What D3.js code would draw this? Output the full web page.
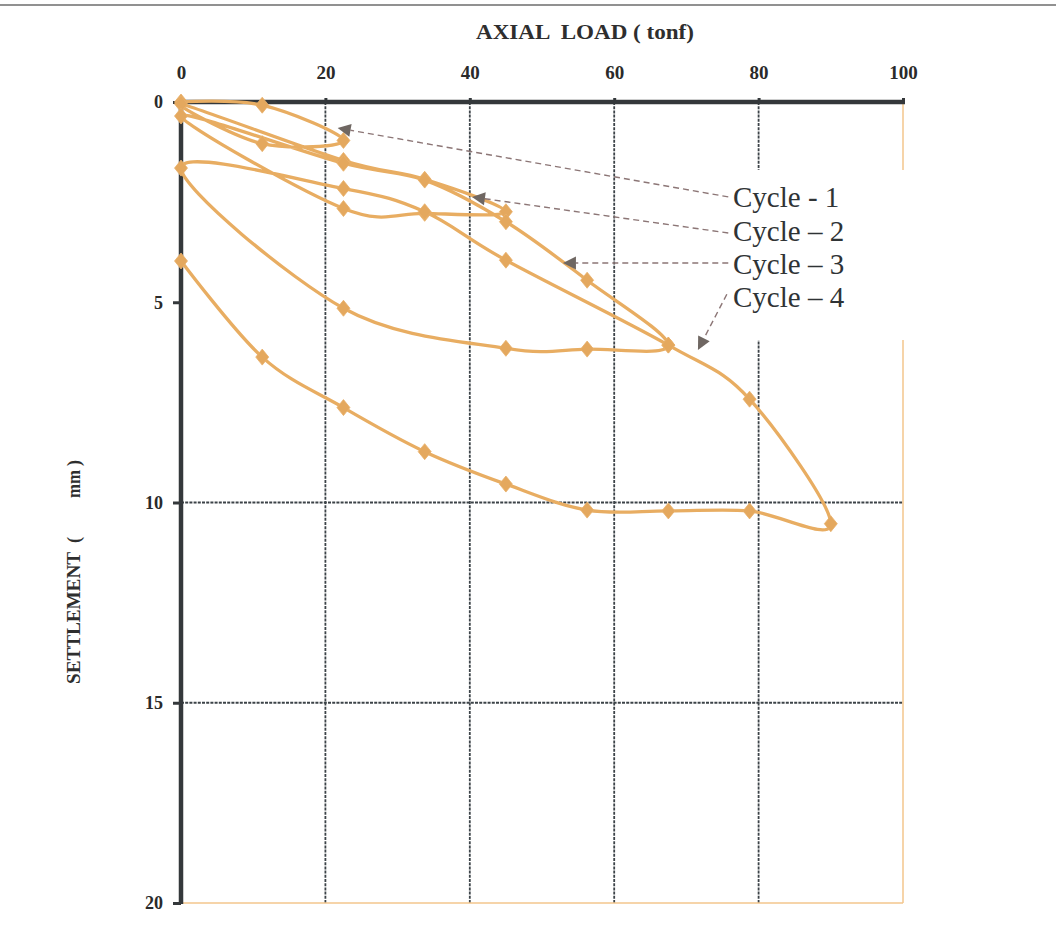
<!DOCTYPE html>
<html>
<head>
<meta charset="utf-8">
<script src="https://cdn.jsdelivr.net/npm/d3@7"></script>
<style>
  html, body { margin: 0; padding: 0; background: #fff; }
  svg { display: block; }
</style>
</head>
<body>
<div id="chart"></div>
<script>
// ---------- data ----------
// Load-settlement record of the cyclic pile test, in plotting order (one continuous smoothed series)
const loads = [0, 11.25, 22.5, 11.25, 0,
  22.5, 33.75, 45, 33.75, 22.5, 0,
  22.5, 33.75, 45, 56.25, 67.5, 56.25, 45, 22.5, 0,
  22.5, 33.75, 45, 67.5, 78.75, 90, 78.75, 67.5, 56.25, 45, 33.75, 22.5, 11.25, 0];
const settlements = [0, 0.08, 0.96, 1.04, 0.05,
  1.46, 1.93, 2.74, 2.78, 2.66, 0.35,
  1.53, 1.95, 2.99, 4.45, 6.07, 6.17, 6.15, 5.15, 1.65,
  2.16, 2.74, 3.95, 6.07, 7.42, 10.53, 10.21, 10.21, 10.19, 9.54, 8.73, 7.63, 6.37, 3.97];

const xTicks = [0, 20, 40, 60, 80, 100];
const yTicks = [0, 5, 10, 15, 20];
const xGrid = [20, 40, 60, 80];
const yGrid = [10, 15];

const cycleLabels = ["Cycle - 1", "Cycle \u2013 2", "Cycle \u2013 3", "Cycle \u2013 4"];
// arrow targets (load, settlement) and arrow tails near the labels
const arrowTipLoad = [21.7, 40.3, 52.9, 71.6];
const arrowTipSett = [0.65, 2.37, 4.02, 6.19];
const arrowTailLoad = [75.8, 75.8, 75.8, 75.6];
const arrowTailSett = [2.37, 3.27, 4.02, 4.8];

const xTitle = "AXIAL  LOAD ( tonf)";
const yTitleParts = ["SETTLEMENT", "(", "mm", ")"];

// ---------- drawing ----------
const W = 1056, H = 947;
const svg = d3.select("#chart").append("svg").attr("width", W).attr("height", H);

const x = d3.scaleLinear().domain([0, 100]).range([181, 903]);
const y = d3.scaleLinear().domain([0, 20]).range([102, 903]);

const axisColor = "#34383b";
const lineColor = "#E8AD62";
const serif = "'Liberation Serif', 'Times New Roman', serif";

// page separator line
svg.append("line").attr("x1", 0).attr("x2", W).attr("y1", 5).attr("y2", 5)
  .attr("stroke", "#6d6d6d").attr("stroke-width", 1.6);

// grid lines
svg.append("g").selectAll("line").data(xGrid).join("line")
  .attr("x1", d => x(d)).attr("x2", d => x(d))
  .attr("y1", y(0)).attr("y2", y(20))
  .attr("stroke", "#3c4348").attr("stroke-width", 1.8)
  .attr("stroke-dasharray", "3,1.2");
svg.append("g").selectAll("line").data(yGrid).join("line")
  .attr("x1", x(0)).attr("x2", x(100))
  .attr("y1", d => y(d)).attr("y2", d => y(d))
  .attr("stroke", "#3c4348").attr("stroke-width", 1.8)
  .attr("stroke-dasharray", "3,1.2");

// plot-area border (right & bottom)
svg.append("line").attr("x1", x(100)).attr("x2", x(100)).attr("y1", y(0)).attr("y2", y(20))
  .attr("stroke", "#F3C68C").attr("stroke-width", 1.5);
svg.append("line").attr("x1", x(0)).attr("x2", x(100)).attr("y1", y(20)).attr("y2", y(20))
  .attr("stroke", "#F3C68C").attr("stroke-width", 1.5);

// legend background box (hides grid / border behind labels)
svg.append("rect").attr("x", 716).attr("y", 170).attr("width", 200).attr("height", 170)
  .attr("fill", "#fff");

// axes
const gx = svg.append("g").attr("transform", `translate(0,${y(0)})`)
  .call(d3.axisTop(x).tickValues(xTicks).tickSize(4).tickPadding(19).tickFormat(d3.format("d")));
gx.select(".domain").remove();
gx.selectAll(".tick line").attr("stroke", axisColor).attr("stroke-width", 3);
gx.selectAll(".tick text").attr("font-family", serif).attr("font-weight", "bold")
  .attr("font-size", 19).attr("fill", "#2a2a2a");

const gy = svg.append("g").attr("transform", `translate(${x(0)},0)`)
  .call(d3.axisLeft(y).tickValues(yTicks).tickSize(8).tickPadding(10).tickFormat(d3.format("d")));
gy.select(".domain").remove();
gy.selectAll(".tick line").attr("stroke", axisColor).attr("stroke-width", 3);
gy.selectAll(".tick text").attr("font-family", serif).attr("font-weight", "bold")
  .attr("font-size", 18).attr("fill", "#2a2a2a");

// thick axis lines
svg.append("line").attr("x1", x(0) - 1).attr("x2", x(100) + 2).attr("y1", y(0)).attr("y2", y(0))
  .attr("stroke", axisColor).attr("stroke-width", 4.5);
svg.append("line").attr("x1", x(0)).attr("x2", x(0)).attr("y1", y(0) - 2).attr("y2", y(20) + 1)
  .attr("stroke", axisColor).attr("stroke-width", 4.5);

// axis titles
svg.append("text").attr("x", 585).attr("y", 39).attr("text-anchor", "middle")
  .attr("font-family", serif).attr("font-size", 20).attr("font-weight", "bold").attr("fill", "#2e2e2e")
  .attr("textLength", 218).attr("lengthAdjust", "spacingAndGlyphs")
  .style("white-space", "pre").text(xTitle);

const yt = svg.append("g").attr("transform", "translate(80,0) rotate(-90)")
  .attr("font-family", serif).attr("font-weight", "bold").attr("font-size", 18).attr("fill", "#2e2e2e");
const yPartStart = [684, 543, 498, 466];
const yPartLen = [132, 6, 28, 6];
yTitleParts.forEach((t, i) => {
  yt.append("text").attr("x", -yPartStart[i]).attr("y", 0)
    .attr("textLength", yPartLen[i]).attr("lengthAdjust", "spacingAndGlyphs").text(t);
});

// curve
const pts = loads.map((l, i) => [l, settlements[i]]);
const line = d3.line().x(d => x(d[0])).y(d => y(d[1])).curve(d3.curveCardinal.tension(0));
svg.append("path").datum(pts).attr("d", line)
  .attr("fill", "none").attr("stroke", lineColor).attr("stroke-width", 3.3)
  .attr("stroke-linejoin", "round").attr("stroke-linecap", "round");

svg.append("g").selectAll("path").data(pts).join("path")
  .attr("transform", d => `translate(${x(d[0])},${y(d[1])})`)
  .attr("d", "M0,-8L6.5,0L0,8L-6.5,0Z")
  .attr("fill", "#E4A85E").attr("stroke", "#E8B06A").attr("stroke-width", 0.8);

// annotations: dashed leaders with arrowheads
const ann = svg.append("g");
cycleLabels.forEach((lab, i) => {
  const x1 = x(arrowTailLoad[i]), y1 = y(arrowTailSett[i]);
  const x2 = x(arrowTipLoad[i]), y2 = y(arrowTipSett[i]);
  const ang = Math.atan2(y2 - y1, x2 - x1);
  const L = 13, hw = 6.5;
  const bx = x2 - L * Math.cos(ang), by = y2 - L * Math.sin(ang);
  ann.append("line").attr("x1", x1).attr("y1", y1).attr("x2", bx).attr("y2", by)
    .attr("stroke", "#8c7676").attr("stroke-width", 1.4).attr("stroke-dasharray", "6,4");
  const p1 = [bx + hw * Math.sin(ang), by - hw * Math.cos(ang)];
  const p2 = [bx - hw * Math.sin(ang), by + hw * Math.cos(ang)];
  ann.append("path").attr("d", `M${x2},${y2}L${p1[0]},${p1[1]}L${p2[0]},${p2[1]}Z`)
    .attr("fill", "#6f6762");
});

const labelBaselines = [206.5, 240.5, 273.5, 306.5];
svg.append("g").selectAll("text").data(cycleLabels).join("text")
  .attr("x", 733).attr("y", (d, i) => labelBaselines[i])
  .attr("font-family", serif).attr("font-size", 29).attr("fill", "#2f3335")
  .text(d => d);
</script>
</body>
</html>
